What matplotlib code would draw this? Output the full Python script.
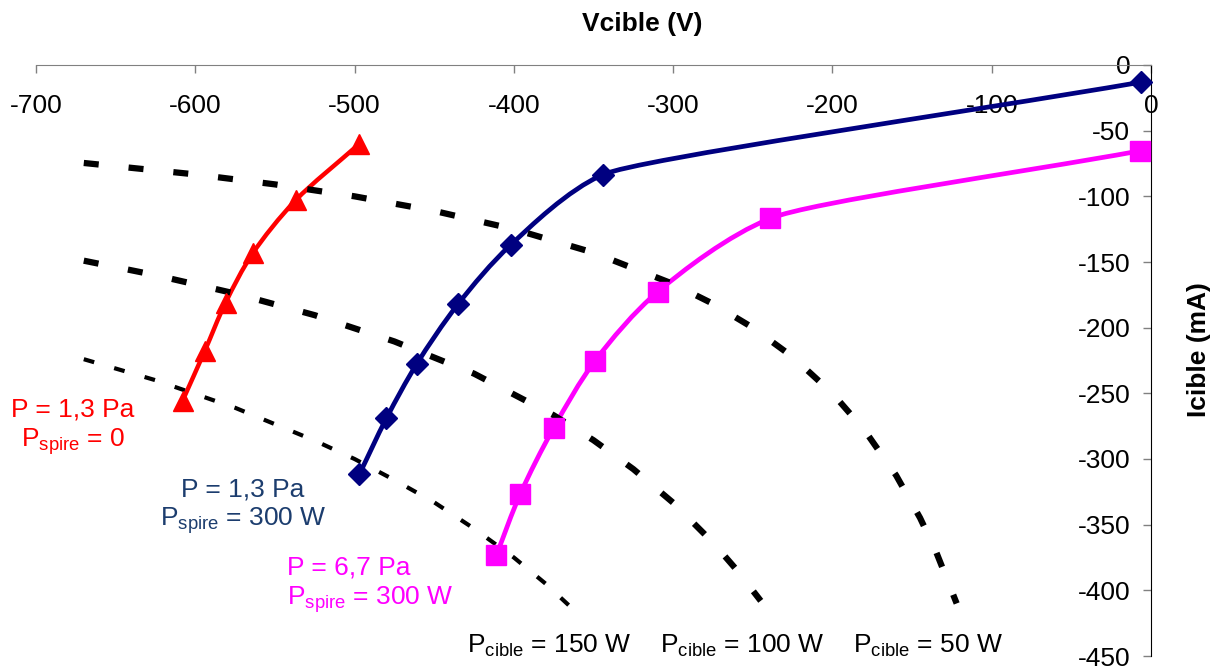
import matplotlib
matplotlib.use("Agg")
import matplotlib.pyplot as plt
from matplotlib.path import Path
from matplotlib.patches import PathPatch
import numpy as np

plt.rcParams['font.family'] = ['Liberation Sans', 'DejaVu Sans']
plt.rcParams['mathtext.fontset'] = 'custom'
plt.rcParams['mathtext.rm'] = 'Liberation Sans'
plt.rcParams['mathtext.it'] = 'Liberation Sans:italic'
plt.rcParams['mathtext.bf'] = 'Liberation Sans:bold'

# courbes mesurees Icible(Vcible)
v_13_0 = [-497, -537, -564, -581, -594, -608]
i_13_0 = [-60, -103, -143.5, -181, -217.6, -255.7]

v_13_300 = [-6, -344, -402, -435, -461, -480, -497]
i_13_300 = [-13, -83.4, -137, -182, -227.7, -269, -311.7]

v_67_300 = [-7, -239, -309.5, -349, -375, -396, -411]
i_67_300 = [-65.4, -116.8, -172.5, -225.2, -276.3, -326.7, -373.3]

# iso-puissance Pcible
v_50w = [-670, -600, -550, -500, -450, -400, -350, -300, -275, -250, -225, -200, -180, -160, -145, -135, -122]
i_50w = [-74.6, -83.3, -90.9, -100, -111.1, -125, -142.9, -166.7, -181.8, -200, -222.2, -250, -277.8, -312.5, -344.8, -370.4, -410]

v_100w = [-670, -625, -575, -525, -475, -425, -375, -350, -325, -300, -275, -260, -245]
i_100w = [-149, -160, -174, -190.5, -210.5, -235, -266.7, -285.7, -307.7, -333.3, -363.6, -384.6, -408]

v_150w = [-670, -625, -575, -525, -500, -475, -450, -425, -400, -380, -357]
i_150w = [-224, -240, -261, -286, -300, -316, -333, -353, -375, -395, -421]

x_ticks = list(range(-700, 1, 100))
y_ticks = list(range(-450, 1, 50))

ROUGE = '#ff0000'
MARINE = '#000080'
MAGENTA = '#ff00ff'
BLEU_TXT = '#1c3d6e'


def courbe_lisse(ax, vx, vy):
    # lissage type Excel : beziers cubiques calcules en pixels
    pts = ax.transData.transform(np.column_stack([vx, vy]))
    n = len(pts)
    seg = [np.hypot(*(pts[k + 1] - pts[k])) for k in range(n - 1)]
    tang = []
    for k in range(n):
        d = np.zeros(2)
        if k > 0:
            d += (pts[k] - pts[k - 1]) / seg[k - 1]
        if k < n - 1:
            d += (pts[k + 1] - pts[k]) / seg[k]
        tang.append(d / np.hypot(*d))
    verts = [pts[0]]
    codes = [Path.MOVETO]
    for k in range(n - 1):
        l1 = min(seg[k], seg[k - 1]) if k > 0 else seg[k]
        l2 = min(seg[k], seg[k + 1]) if k + 1 < n - 1 else seg[k]
        verts += [pts[k] + tang[k] * l1 / 3, pts[k + 1] - tang[k + 1] * l2 / 3, pts[k + 1]]
        codes += [Path.CURVE4] * 3
    verts = ax.transData.inverted().transform(np.array(verts))
    return Path(verts, codes)


W, H = 1220, 670
fig = plt.figure(figsize=(W / 100, H / 100), dpi=100)
ax = fig.add_axes([36 / W, 1 - 656 / H, 1115 / W, 591 / H])
ax.set_xlim(-700, 0)
ax.set_ylim(-450, 0)

ax.spines['top'].set_visible(False)
ax.spines['right'].set_visible(False)
ax.spines['bottom'].set_position(('data', 0))
ax.spines['left'].set_position(('data', 0))
ax.spines['bottom'].set_color('#808080')
ax.spines['left'].set_color('black')
ax.set_xticks(x_ticks)
ax.set_yticks(y_ticks)
ax.set_xticklabels([str(v) for v in x_ticks])
ax.set_yticklabels([str(v) for v in y_ticks])
ax.tick_params(axis='x', direction='out', length=6, width=1, color='#808080', pad=15, labelsize=19)
ax.tick_params(axis='y', direction='out', length=6, width=1, color='#808080', pad=9, labelsize=19)

# iso-puissances
ax.plot(v_50w, i_50w, color='black', lw=4.5, dashes=(2.4, 4.8), zorder=3)
ax.plot(v_100w, i_100w, color='black', lw=4.5, dashes=(2.4, 4.8), zorder=3)
ax.plot(v_150w, i_150w, color='black', lw=3, dashes=(2.6, 5.0), zorder=3)

# mesures
for vx, vy, coul, mk, ms, lw in [(v_13_0, i_13_0, ROUGE, '^', 15, 3.2),
                                 (v_13_300, i_13_300, MARINE, 'D', 11.5, 3.4),
                                 (v_67_300, i_67_300, MAGENTA, 's', 14.5, 3.4)]:
    ax.add_patch(PathPatch(courbe_lisse(ax, vx, vy), fill=False, edgecolor=coul, lw=lw, zorder=2,
                           capstyle='round', joinstyle='round'))
    ax.plot(vx, vy, ls='none', marker=mk, ms=ms, color=coul, mec=coul, zorder=4, clip_on=False)


def fx(px):
    return px / W


def fy(py):
    return 1 - py / H


fig.text(fx(642), fy(31), 'Vcible (V)', fontsize=19, fontweight='bold', ha='center', va='baseline')
fig.text(fx(1199), fy(350), 'Icible (mA)', fontsize=19, fontweight='bold', ha='center', va='center',
         rotation=90)

sub = r'P$_{\mathregular{%s}}$ = %s'
fig.text(fx(73), fy(416), 'P = 1,3 Pa', fontsize=19, color=ROUGE, ha='center', va='baseline')
fig.text(fx(73), fy(447), sub % ('spire', '0'), fontsize=19, color=ROUGE, ha='center', va='baseline')
fig.text(fx(243), fy(496), 'P = 1,3 Pa', fontsize=19, color=BLEU_TXT, ha='center', va='baseline')
fig.text(fx(243), fy(526), sub % ('spire', '300 W'), fontsize=19, color=BLEU_TXT, ha='center',
         va='baseline')
fig.text(fx(287), fy(575), 'P = 6,7 Pa', fontsize=19, color=MAGENTA, ha='left', va='baseline')
fig.text(fx(287), fy(605), sub % ('spire', '300 W'), fontsize=19, color=MAGENTA, ha='left',
         va='baseline')

fig.text(fx(467), fy(653), sub % ('cible', '150 W'), fontsize=19, ha='left', va='baseline')
fig.text(fx(660), fy(653), sub % ('cible', '100 W'), fontsize=19, ha='left', va='baseline')
fig.text(fx(853), fy(653), sub % ('cible', '50 W'), fontsize=19, ha='left', va='baseline')

fig.savefig('out.png', dpi=100)
